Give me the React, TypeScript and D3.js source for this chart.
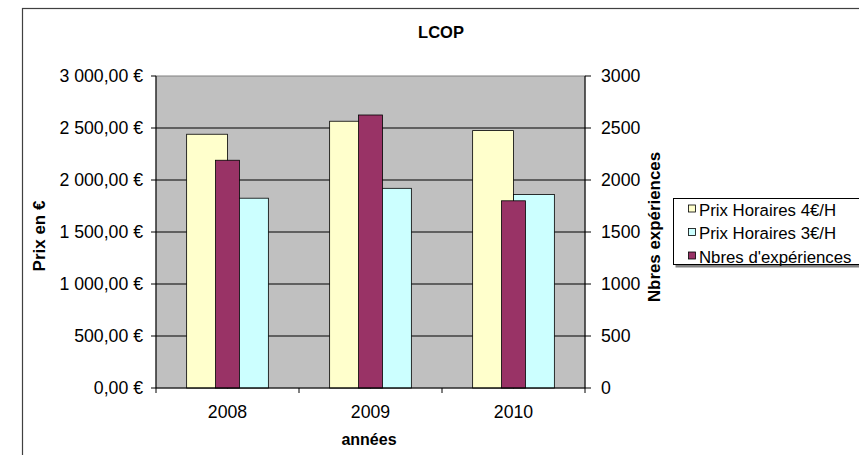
import React from 'react';
import * as d3 from 'd3';

const years = ['2008', '2009', '2010'];
const prix4 = [2440, 2565, 2475];
const prix3 = [1825, 1920, 1860];
const experiences = [2190, 2625, 1800];
const leftTicks = [0, 500, 1000, 1500, 2000, 2500, 3000];
const legendLabels = ['Prix Horaires 4€/H', 'Prix Horaires 3€/H', "Nbres d'expériences"];
const colors = ['#FFFFCC', '#CCFFFF', '#993366'];

const W = 859;
const H = 455;
const plot = { left: 156, right: 585, top: 76, bottom: 388 };
const font = 'Arial, "Liberation Sans", sans-serif';

const euro = (v: number) => {
  const s = d3.format(',.2f')(v).replace(/,/g, ' ').replace('.', ',');
  return s + ' €';
};

const App = () => {
  const x0 = d3.scaleBand().domain(years).range([plot.left, plot.right]);
  const band = x0.bandwidth();
  // gap width 150% for the two primary series
  const group = (band * 2) / 3.5;
  const x1 = d3.scaleBand().domain(['p4', 'p3']).range([(band - group) / 2, (band + group) / 2]);
  // secondary series: single bar, gap 500%
  const secW = band / 6;

  const y = d3.scaleLinear().domain([0, 3000]).range([plot.bottom, plot.top]);
  const y2 = d3.scaleLinear().domain([0, 3000]).range([plot.bottom, plot.top]);

  const midX = (plot.left + plot.right) / 2;

  return (
    <svg width={W} height={H} style={{ position: 'absolute', left: 0, top: 0 }} fontFamily={font}>
      <rect x={0} y={0} width={W} height={H} fill="#fff" />
      <rect x={22.5} y={8.5} width={900} height={500} fill="#fff" stroke="#404040" strokeWidth={1.2} />

      <text x={441} y={37.7} textAnchor="middle" fontSize={16.5} fontWeight="bold">LCOP</text>

      {/* plot area */}
      <rect x={plot.left} y={plot.top} width={plot.right - plot.left} height={plot.bottom - plot.top} fill="#C0C0C0" stroke="#808080" />
      {leftTicks.slice(1, -1).map(t => (
        <line key={t} x1={plot.left} x2={plot.right} y1={y(t)} y2={y(t)} stroke="#000" strokeWidth={1} />
      ))}

      {/* primary bars */}
      {years.map((yr, i) => (
        <g key={yr} transform={`translate(${x0(yr)},0)`}>
          <rect x={x1('p4')} y={y(prix4[i])} width={x1.bandwidth()} height={plot.bottom - y(prix4[i])} fill={colors[0]} stroke="#000" strokeWidth={0.8} />
          <rect x={x1('p3')} y={y(prix3[i])} width={x1.bandwidth()} height={plot.bottom - y(prix3[i])} fill={colors[1]} stroke="#000" strokeWidth={0.8} />
        </g>
      ))}
      {/* secondary bars */}
      {years.map((yr, i) => (
        <rect key={yr} x={(x0(yr) as number) + band / 2 - secW / 2} y={y2(experiences[i])} width={secW} height={plot.bottom - y2(experiences[i])} fill={colors[2]} stroke="#000" strokeWidth={0.8} />
      ))}

      {/* axes */}
      <line x1={plot.left} x2={plot.left} y1={plot.top} y2={plot.bottom} stroke="#000" />
      <line x1={plot.right} x2={plot.right} y1={plot.top} y2={plot.bottom} stroke="#000" />
      <line x1={plot.left} x2={plot.right} y1={plot.bottom} y2={plot.bottom} stroke="#000" />
      {leftTicks.map(t => (
        <g key={t}>
          <line x1={plot.left - 5} x2={plot.left} y1={y(t)} y2={y(t)} stroke="#000" />
          <text x={143} y={y(t)} dy="0.35em" textAnchor="end" fontSize={17.7}>{euro(t)}</text>
          <line x1={plot.right} x2={plot.right + 6} y1={y2(t)} y2={y2(t)} stroke="#000" />
          <text x={601} y={y2(t)} dy="0.35em" fontSize={17.7}>{t}</text>
        </g>
      ))}
      {[...years.map(yr => x0(yr) as number), plot.right].map((xv, i) => (
        <line key={i} x1={xv} x2={xv} y1={plot.bottom} y2={plot.bottom + 5} stroke="#000" />
      ))}
      {years.map(yr => (
        <text key={yr} x={(x0(yr) as number) + band / 2} y={418.3} textAnchor="middle" fontSize={17.7}>{yr}</text>
      ))}

      <text x={midX - 1.5} y={445} textAnchor="middle" fontSize={16} fontWeight="bold">années</text>
      <text transform={`translate(45,236) rotate(-90)`} textAnchor="middle" fontSize={17} fontWeight="bold">Prix en €</text>
      <text transform={`translate(660,227) rotate(-90)`} textAnchor="middle" fontSize={16.9} fontWeight="bold">Nbres expériences</text>

      {/* legend */}
      <rect x={675.5} y={200.5} width={200} height={67} fill="#808080" />
      <rect x={673.5} y={198.5} width={200} height={66} fill="#fff" stroke="#000" strokeWidth={1} />
      {legendLabels.map((lab, i) => (
        <g key={lab} transform={`translate(0,${209.5 + i * 23.5})`}>
          <rect x={688.5} y={-4.5} width={7} height={7} fill={colors[i]} stroke="#000" strokeWidth={0.8} />
          <text x={699} y={0} dy="0.36em" fontSize={16.8}>{lab}</text>
        </g>
      ))}
    </svg>
  );
};

export default App;
